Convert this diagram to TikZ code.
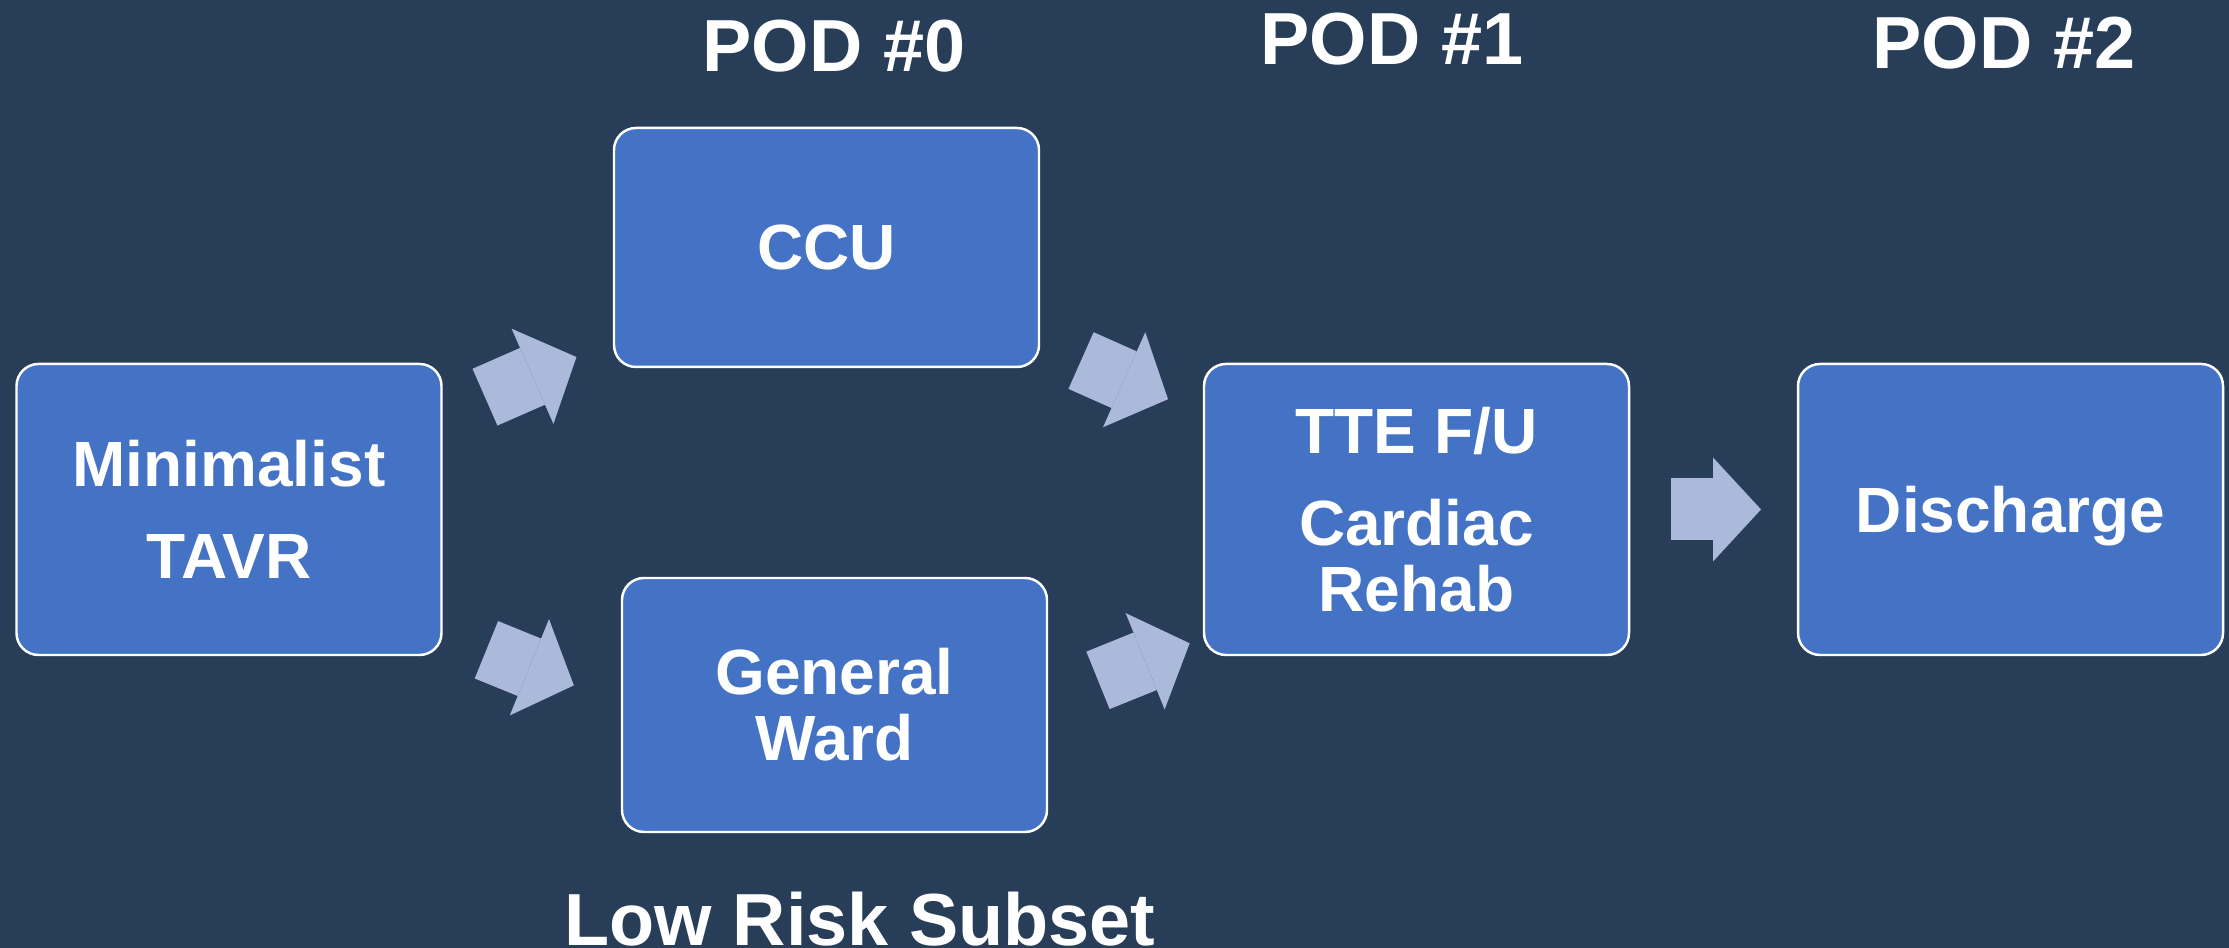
\documentclass[tikz,border=0pt]{standalone}
\usepackage{fontspec}
\setmainfont{Liberation Sans}
\usepackage{xcolor}
\usepackage{tikz}
\usetikzlibrary{positioning}
\usetikzlibrary{arrows.meta}
\tikzstyle{flow} = [draw, line width=0.62cm, color=myarrow, -{Triangle[width=1.04cm,length=0.48cm,line width=0pt]}]
\definecolor{mynavy}{RGB}{40,61,87}
\definecolor{mybox}{RGB}{68,114,196}
\definecolor{myarrow}{RGB}{171,185,219}

\begin{document}
\begin{tikzpicture}[node distance=1.69cm,outer sep=0pt,
stageb/.style={
  draw=white,
  line width=0.7pt,
  fill=mybox,
  rounded corners=0.22cm,
  minimum width=4.25cm,
  minimum height=2.91cm,
  font={\fontsize{18.2pt}{18.8pt}\selectfont\bfseries\color{white}},
  align=center},
podt/.style={
  font={\fontsize{21pt}{24pt}\selectfont\bfseries\color{white}},
  anchor=base,
  inner sep=0pt},
]
\fill[mynavy] (0,0) rectangle (22.29,9.48);
\useasboundingbox (0,0) rectangle (22.29,9.48);

\node[stageb] (tavr) at (2.29,4.385) {Minimalist\\[0.26cm]TAVR};
\node[stageb, minimum height=2.39cm] (ccu) at (8.265,7.005) {CCU};
\node[stageb, minimum height=2.54cm] (gw) at (8.345,2.43) {General\\Ward};
\node[stageb] (tte) at (14.165,4.385) {TTE F/U\\[0.26cm]Cardiac\\Rehab};
\node[stageb, text depth=0pt, right=of tte] (dis) {Discharge};

\node[podt] (pod0) at (8.34,8.76) {POD \#0};
\node[podt] (pod1) at (13.92,8.83) {POD \#1};
\node[podt] (pod2) at (20.04,8.79) {POD \#2};
\node[podt] (low) at (8.60,0.02) {Low Risk Subset};

\path [flow, shorten <=0.475cm, shorten >=0.41cm] (tavr) -- (ccu);
\path [flow, shorten <=0.485cm, shorten >=0.52cm] ([yshift=-1.22cm]tavr.east) -- (gw.west);
\path [flow, shorten <=0.46cm, shorten >=0.394cm] (ccu) -- (tte);
\path [flow, shorten <=0.55cm, shorten >=0.155cm] ([yshift=0.04cm]gw.east) -- ([yshift=-1.28cm]tte.west);
\path [flow, shorten <=0.42cm, shorten >=0.37cm] (tte) -- (dis);
\end{tikzpicture}
\end{document}
